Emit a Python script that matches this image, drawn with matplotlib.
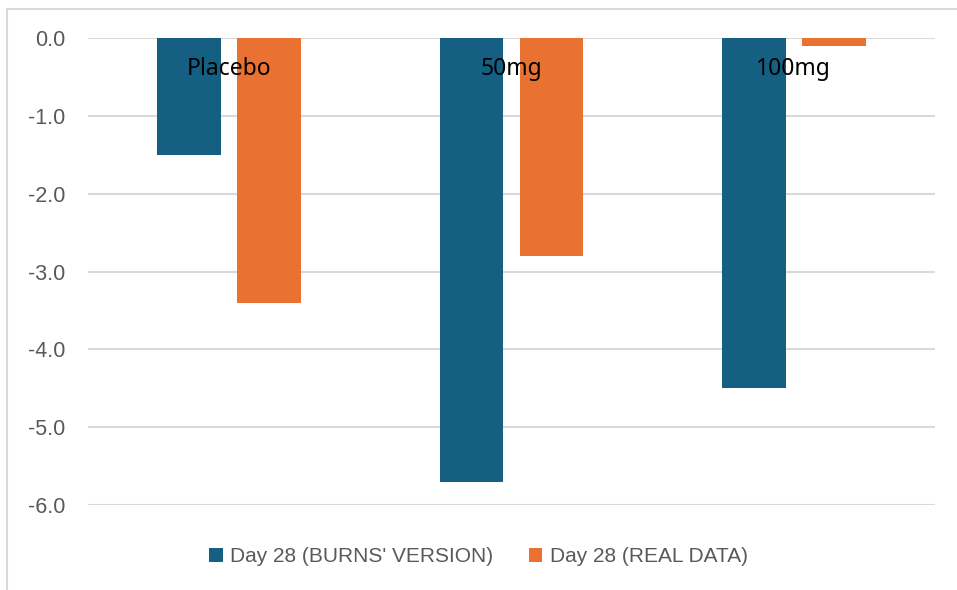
import matplotlib
matplotlib.use("Agg")
import matplotlib.pyplot as plt
import numpy as np
from matplotlib.patches import Rectangle

categories = ["Placebo", "50mg", "100mg"]
burns_version = [-1.5, -5.7, -4.5]
real_data = [-3.4, -2.8, -0.1]
series_names = ["Day 28 (BURNS' VERSION)", "Day 28 (REAL DATA)"]
yticks = [0.0, -1.0, -2.0, -3.0, -4.0, -5.0, -6.0]

BLUE = "#156082"
ORANGE = "#E97132"
GRID = "#D9D9D9"
TEXT_GRAY = "#595959"

fig = plt.figure(figsize=(9.57, 5.90), dpi=100)
ax = fig.add_axes([0.0920, 0.1441, 0.8850, 0.7907])

# chart border (top and left edges visible)
fig.add_artist(Rectangle((7 / 957, -0.1), 1.2, 1 - 9 / 590 + 0.1,
                         transform=fig.transFigure, fill=False,
                         edgecolor=GRID, linewidth=1.5, zorder=0))

x = np.arange(len(categories))
width = 0.226
offset = 0.1415
ax.bar(x - offset, burns_version, width, color=BLUE, label=series_names[0], zorder=3)
ax.bar(x + offset, real_data, width, color=ORANGE, label=series_names[1], zorder=3)

ax.set_xlim(-0.5, len(categories) - 0.5)
ax.set_ylim(min(yticks), max(yticks))
ax.set_yticks(yticks)
ax.set_yticklabels([f"{v:.1f}" for v in yticks], fontfamily="Liberation Sans",
                   fontsize=15.5, color=TEXT_GRAY)
ax.tick_params(axis="y", length=0, pad=16.5)
ax.set_xticks([])
ax.grid(axis="y", color=GRID, linewidth=1.5, zorder=0)
for s in ax.spines.values():
    s.set_visible(False)

# category labels sit just below the zero line
for xi, name in zip(x, categories):
    ax.text(xi, -0.39, name, ha="center", va="center", fontsize=16.5,
            fontfamily="Noto Sans", color="black", zorder=4)

leg = fig.legend(loc="center", bbox_to_anchor=(0.5, 1 - 557 / 590), ncol=2,
                 frameon=False, prop={"family": "Liberation Sans", "size": 15.0},
                 handlelength=0.65, handleheight=0.65, handletextpad=0.35,
                 columnspacing=1.7)
for t in leg.get_texts():
    t.set_color(TEXT_GRAY)

fig.savefig("out.png", dpi=100)
